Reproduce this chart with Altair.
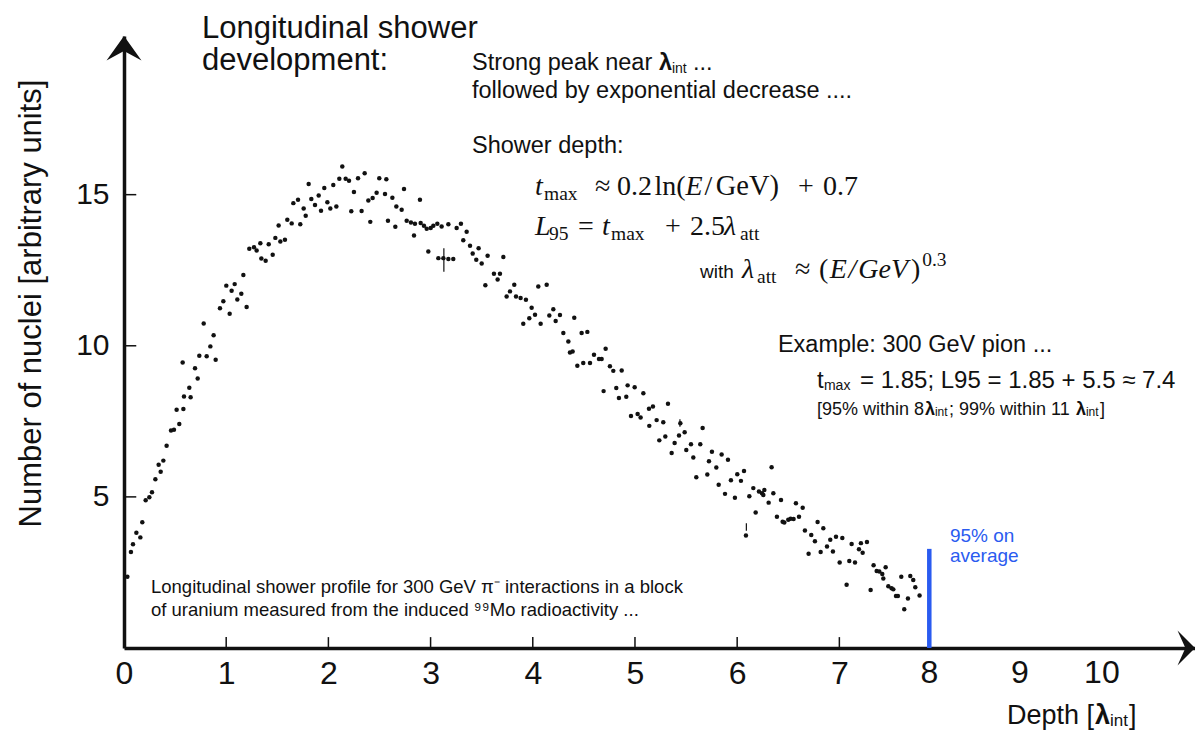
import altair as alt
import pandas as pd

# ---------------- data ----------------
DEPTH = [
    0.033, 0.068, 0.088, 0.121, 0.160, 0.179, 0.212, 0.248, 0.274, 0.307, 0.339, 0.359, 0.385, 0.417,
    0.460, 0.489, 0.515, 0.541, 0.581,
    0.574, 0.587, 0.639, 0.652, 0.695, 0.721, 0.737, 0.780, 0.809, 0.845, 0.877, 0.897, 0.939, 0.972,
    1.001, 1.034, 1.053, 1.083, 1.109, 1.148, 1.168, 1.200, 1.226, 1.272, 1.298, 1.334, 1.344, 1.386,
    1.416, 1.455, 1.481, 1.513, 1.530, 1.575, 1.598, 1.641, 1.657, 1.703, 1.725, 1.758, 1.778, 1.807,
    1.833, 1.869, 1.905, 1.928, 1.960, 1.990, 2.019, 2.048, 2.078, 2.107, 2.136, 2.169, 2.202, 2.224,
    2.250, 2.290, 2.325, 2.355, 2.391, 2.410, 2.433, 2.472, 2.498, 2.554, 2.567, 2.583, 2.626, 2.655,
    2.665,
    2.717, 2.740, 2.766, 2.808, 2.838, 2.847, 2.896, 2.903, 2.935, 2.962, 2.978, 3.001, 3.027, 3.066,
    3.076, 3.108, 3.125, 3.174, 3.174, 3.222, 3.255, 3.297, 3.320, 3.353, 3.386, 3.412, 3.447, 3.470,
    3.500, 3.536, 3.558, 3.620, 3.656, 3.679, 3.712, 3.744, 3.777, 3.819, 3.836, 3.881, 3.907, 3.933,
    3.966, 3.989, 4.022, 4.054, 4.077, 4.136, 4.162, 4.201, 4.224, 4.266, 4.299, 4.348, 4.364, 4.390,
    4.406, 4.436, 4.478, 4.494, 4.534, 4.560, 4.599, 4.648, 4.674, 4.713, 4.755, 4.788, 4.870,
    4.693, 4.817, 4.843, 4.928, 4.915, 4.997, 5.082, 4.961, 5.026, 5.055, 5.137, 5.176, 5.323, 5.212,
    5.277, 5.140, 5.444, 5.238, 5.297, 5.388, 5.359, 5.431, 5.486, 5.502, 5.548, 5.571, 5.639, 5.662,
    5.600, 5.708, 5.724, 5.753, 5.796, 5.848, 5.910, 5.819, 5.881, 5.939, 5.978, 6.001, 6.037, 6.067,
    6.086, 6.119, 6.158, 6.181, 6.213, 6.243, 6.266, 6.256, 6.308, 6.337, 6.354, 6.389, 6.429, 6.445,
    6.461, 6.500, 6.523, 6.552, 6.575, 6.605, 6.641, 6.663, 6.699, 6.725, 6.761, 6.787, 6.817, 6.843,
    6.879, 6.911, 6.937, 6.967, 7.029, 7.003, 7.071, 7.097, 7.153, 7.120, 7.192, 7.211, 7.228, 7.270,
    7.306, 7.335, 7.365, 7.391, 7.420, 7.430, 7.453, 7.479, 7.511, 7.528, 7.554, 7.573, 7.606, 7.635,
    7.671, 7.694, 7.723, 7.743, 7.785,
]
NUCLEI = [
    2.36, 3.18, 3.43, 3.81, 3.66, 4.16, 4.89, 4.99, 5.15, 5.58, 6.06, 5.83, 6.20, 6.69,
    7.20, 7.22, 7.88, 7.41, 7.91,
    9.45, 8.32, 8.61, 8.30, 9.26, 8.92, 9.67, 10.74, 9.65, 9.98, 10.35, 9.54, 11.24, 11.47,
    11.99, 11.06, 11.82, 12.04, 11.53, 11.72, 12.34, 11.28, 13.21, 13.26, 13.15, 13.39, 12.89, 12.81,
    13.36, 13.01, 13.57, 13.98, 13.45, 13.51, 14.17, 14.05, 14.72, 14.83, 14.02, 14.54, 14.30, 15.35,
    14.86, 14.66, 14.97, 14.47, 15.22, 14.75, 14.54, 15.32, 14.61, 15.53, 15.93, 15.53, 15.46, 14.45,
    15.09, 15.54, 14.46, 15.71, 14.81, 14.10, 14.89, 15.06, 15.54, 15.02, 15.51, 14.14, 14.90, 13.94,
    14.61,
    14.50, 15.19, 14.14, 14.08, 13.65, 14.04, 14.83, 14.06, 13.97, 13.87, 13.12, 13.90, 13.97, 14.04,
    12.90, 13.95, 12.90, 14.02, 12.87, 12.87, 13.90, 14.04, 13.49, 13.77, 13.31, 13.05, 12.85, 13.23,
    12.72, 12.00, 12.98, 12.38, 12.19, 12.38, 12.94, 11.63, 11.80, 12.02, 11.63, 11.58, 10.73, 11.52,
    10.91, 11.26, 11.03, 11.96, 10.73, 12.02, 11.00, 11.21, 10.82, 11.02, 10.42, 10.14, 9.78, 9.81,
    10.93, 9.34, 10.42, 9.43, 10.46, 9.43, 9.70, 9.56, 9.56, 9.90, 9.32, 9.17, 9.18,
    8.50, 8.60, 8.27, 8.69, 8.31, 8.63, 8.43, 7.68, 7.74, 7.63, 7.92, 7.99, 8.08, 7.54,
    7.47, 7.35, 7.44, 6.87, 7.00, 6.78, 6.45, 7.03, 7.14, 6.55, 6.74, 6.30, 6.74, 7.28,
    5.65, 5.74, 6.18, 6.49, 5.97, 6.40, 6.23, 5.40, 5.10, 5.55, 4.97, 5.75, 5.53, 5.86,
    3.72, 5.02, 5.29, 4.48, 5.18, 5.12, 5.23, 5.06, 4.81, 5.98, 5.12, 4.34, 4.90, 4.18,
    4.15, 4.24, 4.28, 4.27, 4.79, 4.34, 4.64, 3.89, 3.12, 3.74, 3.53, 4.17, 3.18, 3.96,
    3.36, 3.58, 3.19, 3.68, 3.64, 2.83, 2.09, 2.88, 2.83, 3.44, 3.27, 3.47, 3.15, 3.51,
    1.92, 2.74, 2.55, 2.53, 2.45, 2.30, 2.67, 2.04, 1.98, 1.94, 1.72, 1.72, 2.36, 1.28,
    1.64, 2.38, 2.25, 2.01, 1.74,
]

# small vertical error marks visible on a few points
ERR_X = [3.13, 5.44, 6.09]
ERR_LO = [12.45, 7.32, 3.88]
ERR_HI = [13.23, 7.57, 4.13]

X_LABELS = [0, 1, 2, 3, 4, 5, 6, 7]
# the last three labels were placed by hand on the slide, not at their scale positions
EXTRA_LABELS = ["8", "9", "10"]
EXTRA_LABEL_POS = [7.88, 8.767, 9.569]
X_TICKS = [1, 2, 3, 4, 5, 6, 7]
Y_TICKS = [5, 10, 15]

MARK_95 = 7.88          # blue "95% on average" marker position
MARK_95_TOP = 3.28

X_END = 10.48
Y_END = 20.25
LABEL_ROW = -1.158      # baseline of the x tick labels, in data units

Y_TITLE = "Number of nuclei [arbitrary units]"

# annotation pieces: text, x, y, font size, style, colour
K = "#111111"
B = "#2a5bf0"
ANNOT = [
    ("Longitudinal shower", 0.763, 20.19, 31, "sans", K),
    ("development:", 0.763, 19.13, 31, "sans", K),
    ("Strong peak near", 3.405, 19.13, 23.5, "sans", K),
    ("λ", 5.235, 19.13, 23.5, "bold", K),
    ("int", 5.362, 19.03, 14, "sans", K),
    ("...", 5.568, 19.13, 23.5, "sans", K),
    ("followed by exponential decrease ....", 3.405, 18.20, 23.5, "sans", K),
    ("Shower depth:", 3.405, 16.38, 23.5, "sans", K),
    # t_max ≈ 0.2 ln(E/GeV) + 0.7
    ("t", 4.022, 14.99, 28, "serifit", K),
    ("max", 4.110, 14.82, 19.5, "serif", K),
    ("≈", 4.609, 14.99, 28, "serif", K),
    ("0.2", 4.824, 14.99, 28, "serif", K),
    ("ln(", 5.190, 14.99, 28, "serif", K),
    ("E", 5.495, 14.99, 28, "serifit", K),
    ("/", 5.680, 14.99, 28, "serif", K),
    ("GeV)", 5.790, 14.99, 28.5, "serif", K),
    ("+", 6.595, 14.99, 28, "serif", K),
    ("0.7", 6.840, 14.99, 28, "serif", K),
    # L95 = t_max + 2.5 λ_att
    ("L", 4.022, 13.67, 28, "serifit", K),
    ("95", 4.159, 13.50, 19.5, "serif", K),
    ("=", 4.442, 13.67, 28, "serif", K),
    ("t", 4.677, 13.67, 28, "serifit", K),
    ("max", 4.765, 13.50, 19.5, "serif", K),
    ("+", 5.294, 13.67, 28, "serif", K),
    ("2.5", 5.538, 13.67, 28, "serif", K),
    ("λ", 5.871, 13.67, 28, "serifit", K),
    ("att", 6.027, 13.50, 19.5, "serif", K),
    # with λ_att ≈ (E/GeV)^0.3
    ("with", 5.636, 12.24, 19, "sans", K),
    ("λ", 6.047, 12.24, 28, "serifit", K),
    ("att", 6.194, 12.08, 19.5, "serif", K),
    ("≈", 6.566, 12.24, 28, "serif", K),
    ("(", 6.800, 12.24, 28, "serif", K),
    ("E", 6.905, 12.24, 28, "serifit", K),
    ("/", 7.090, 12.24, 28, "serifit", K),
    ("GeV", 7.185, 12.24, 28, "serifit", K),
    (")", 7.700, 12.24, 28, "serif", K),
    ("0.3", 7.810, 12.64, 19.5, "serif", K),
    # example
    ("Example: 300 GeV pion ...", 6.399, 9.795, 23.5, "sans", K),
    ("t", 6.781, 8.604, 24, "sans", K),
    ("max", 6.849, 8.54, 14, "sans", K),
    ("= 1.85; L95 = 1.85 + 5.5 ≈ 7.4", 7.202, 8.604, 24, "sans", K),
    ("[95% within 8", 6.781, 7.710, 18, "sans", K),
    ("λ", 7.837, 7.710, 18, "bold", K),
    ("int", 7.935, 7.66, 12, "sans", K),
    ("; 99% within 11", 8.072, 7.710, 18, "sans", K),
    ("λ", 9.315, 7.710, 18, "bold", K),
    ("int", 9.413, 7.66, 12, "sans", K),
    ("]", 9.550, 7.710, 18, "sans", K),
    ("95% on", 8.082, 3.50, 19, "sans", B),
    ("average", 8.082, 2.84, 19, "sans", B),
    ("Longitudinal shower profile for 300 GeV π⁻ interactions in a block", 0.264, 1.82, 18.5, "sans", K),
    ("of uranium measured from the induced ⁹⁹Mo radioactivity ...", 0.264, 1.06, 18.5, "sans", K),
    ("Depth [", 8.640, -2.515, 27, "sans", K),
    ("λ", 9.501, -2.515, 27, "bold", K),
    ("int", 9.648, -2.58, 17, "sans", K),
    ("]", 9.834, -2.515, 27, "sans", K),
]

# ---------------- chart ----------------
SANS = "Liberation Sans"
SERIF = "Liberation Serif"
INK = "#111111"

xs = alt.Scale(domain=[0, X_END], nice=False, zero=False)
ys = alt.Scale(domain=[0, Y_END], nice=False, zero=False)

pts = pd.DataFrame({"x": DEPTH, "y": NUCLEI})
errs = pd.DataFrame({"x": ERR_X, "lo": ERR_LO, "hi": ERR_HI})
ann = pd.DataFrame(ANNOT, columns=["text", "x", "y", "size", "style", "color"])
extra = pd.DataFrame({"label": EXTRA_LABELS, "x": EXTRA_LABEL_POS, "y": [LABEL_ROW] * 3})

X_AXIS = alt.Axis(
    values=X_LABELS, ticks=False, tickSize=0, grid=False, format="d",
    domainColor=INK, domainWidth=3.5,
    labelFont=SANS, labelFontSize=32, labelColor=INK, labelPadding=35,
    labelBaseline="alphabetic", labelFlush=False, labelOverlap=False,
    title=None,
)
Y_AXIS = alt.Axis(
    values=Y_TICKS, ticks=False, tickSize=0, grid=False,
    domainColor=INK, domainWidth=3.5,
    labelFont=SANS, labelFontSize=30, labelColor=INK, labelPadding=15,
    labelBaseline="middle", labelFlush=False, labelOverlap=False,
    title=Y_TITLE, titleFont=SANS, titleFontSize=31, titleFontWeight="normal",
    titleColor=INK, titleAngle=270, titleX=-84, titleY=267,
    titleAlign="center", titleBaseline="alphabetic",
)


def X(field):
    return alt.X(field, scale=xs, axis=X_AXIS)


def Y(field):
    return alt.Y(field, scale=ys, axis=Y_AXIS)


points = alt.Chart(pts).mark_circle(size=20, color=INK, opacity=1).encode(
    x=X("x:Q"), y=Y("y:Q"),
)

x_ticks = alt.Chart(pd.DataFrame({"x": X_TICKS, "y": 0.0, "y1": 0.36})).mark_rule(
    color=INK, strokeWidth=1.5).encode(x=X("x:Q"), y=Y("y:Q"), y2="y1:Q")

y_ticks = alt.Chart(pd.DataFrame({"y": Y_TICKS, "x": 0.0, "x1": 0.12})).mark_rule(
    color=INK, strokeWidth=1.5).encode(y=Y("y:Q"), x=X("x:Q"), x2="x1:Q")

err = alt.Chart(errs).mark_rule(color=INK, strokeWidth=1.2).encode(
    x=X("x:Q"), y=Y("lo:Q"), y2="hi:Q")

blue = alt.Chart(pd.DataFrame({"x": [MARK_95], "y": [0.0], "y1": [MARK_95_TOP]})).mark_rule(
    color=B, strokeWidth=4.5).encode(x=X("x:Q"), y=Y("y:Q"), y2="y1:Q")

top_arrow = alt.Chart(pd.DataFrame({"x": [0.0], "y": [Y_END]})).mark_point(
    shape="M0,0 L1,1.4 L0,0.85 L-1,1.4 Z", filled=True, size=1225, color=INK, opacity=1
).encode(x=X("x:Q"), y=Y("y:Q"))

right_arrow = alt.Chart(pd.DataFrame({"x": [X_END], "y": [0.0]})).mark_point(
    shape="M0,0 L-1,-1 L-0.55,0 L-1,1 Z", filled=True, size=1225, color=INK, opacity=1
).encode(x=X("x:Q"), y=Y("y:Q"))

extra_labels = alt.Chart(extra).mark_text(
    align="center", baseline="alphabetic", font=SANS, fontSize=32, color=INK
).encode(x=X("x:Q"), y=Y("y:Q"), text="label:N")


def text_layer(style, font, **kw):
    return alt.Chart(ann).transform_filter(alt.datum.style == style).mark_text(
        align="left", baseline="alphabetic", font=font, **kw
    ).encode(
        x=X("x:Q"), y=Y("y:Q"),
        text="text:N",
        size=alt.Size("size:Q", scale=None),
        color=alt.Color("color:N", scale=None),
    )


texts = [
    text_layer("sans", SANS),
    text_layer("bold", SANS, fontWeight="bold"),
    text_layer("serif", SERIF),
    text_layer("serifit", SERIF, fontStyle="italic"),
]

chart = alt.layer(
    points, x_ticks, y_ticks, err, blue, top_arrow, right_arrow, extra_labels, *texts
).properties(
    width=1071, height=612,
    padding={"left": 116, "top": 28, "right": 0, "bottom": 82},
    autosize=alt.AutoSizeParams(type="none"),
    background="white",
).configure_view(stroke=None)

chart.save("out.html", embed_options={"renderer": "svg", "actions": False})
